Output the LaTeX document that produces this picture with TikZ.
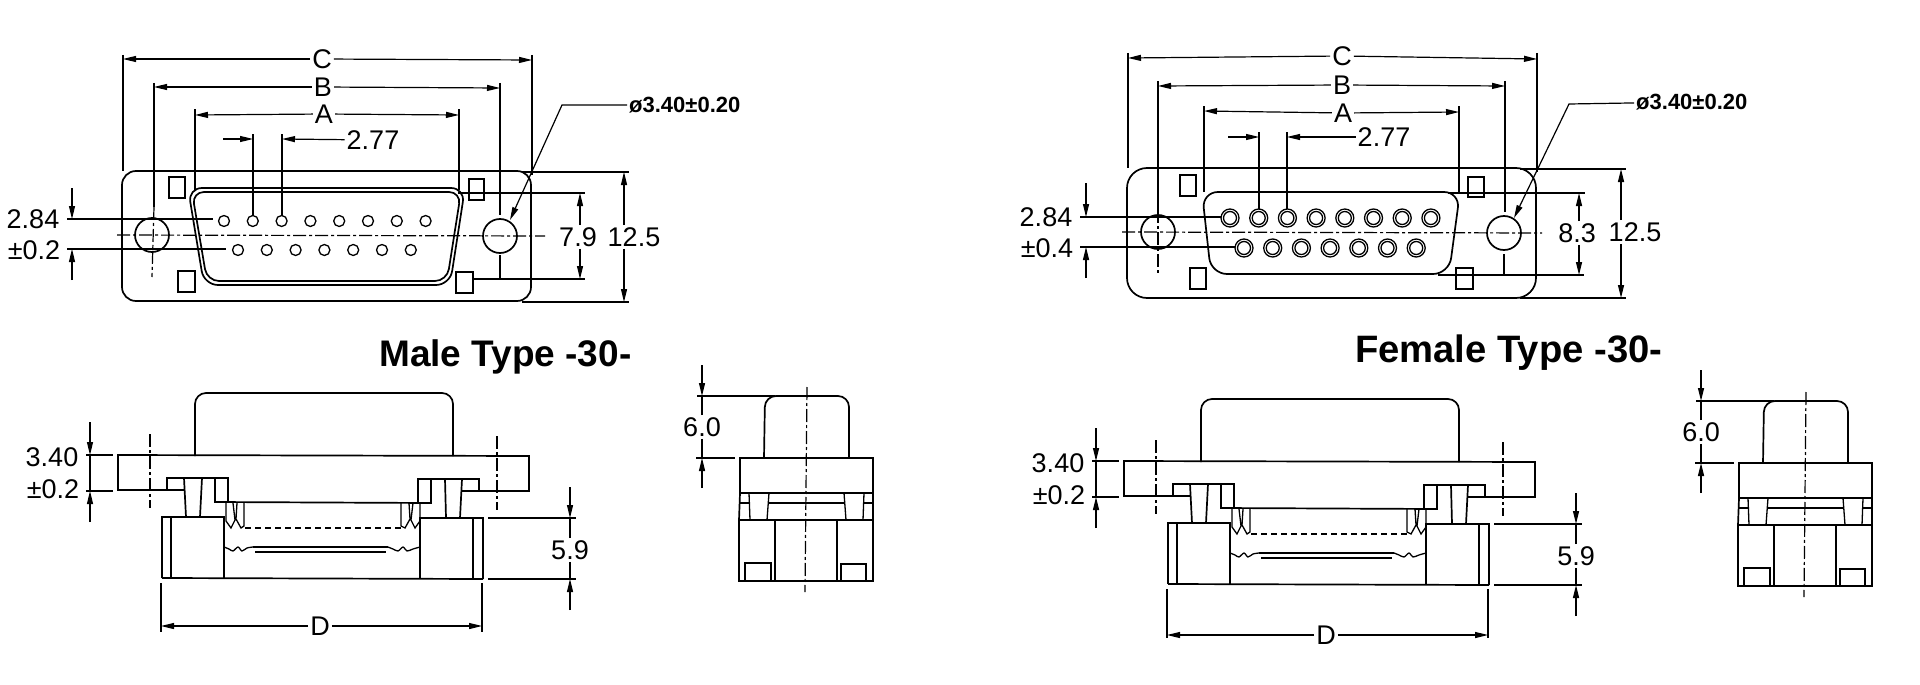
\documentclass[tikz,border=0pt]{standalone}
\usepackage{fontspec}
\setmainfont{Liberation Sans}
\usetikzlibrary{arrows.meta}
\tikzset{
  part/.style={line width=1.7pt,black},
  thinpart/.style={line width=1.3pt,black},
  leader/.style={line width=1.2pt,black},
  dimline/.style={line width=1.2pt,black,-{Stealth[length=13pt,width=6pt,inset=0pt]}},
  centerline/.style={line width=1.2pt,black,dash pattern=on 13pt off 3pt on 3pt off 3pt},
  dimlabel/.style={font=\fontsize{27}{30}\selectfont,inner sep=2pt,fill=white},
  holelabel/.style={font=\fontsize{22}{26}\selectfont\bfseries,inner sep=2pt},
  titlelabel/.style={font=\fontsize{37}{42}\selectfont\bfseries,inner sep=0pt,anchor=base west}
}
\newcommand{\sideview}[1]{
  \draw[part] (167,490) -- (118,490) -- (118,455) -- (529,456) -- (529,491) -- (479,491);
  \draw[part,rounded corners=11] (195,456) -- (195,393) -- (453,393) -- (453,456);
  \draw[part] (184,490) -- (167,490) -- (167,478) -- (228,478) -- (228,502);
  \draw[part] (461,491) -- (479,491) -- (479,479) -- (418,479) -- (418,503);
  \draw[part] (215,478) -- (215,502) -- (431,503) -- (431,479);
  \draw[part] (184,478) -- (186,517) (202,478) -- (200,517);
  \draw[part] (445,479) -- (446,518) (462,479) -- (460,518);
  \draw[part] (162,578) -- (162,517) -- (224,517) -- (224,578);
  \draw[part] (483,579) -- (483,518) -- (420,518) -- (420,578);
  \draw[part] (162,578) -- (483,579) (171,517) -- (171,578) (473,518) -- (473,579);
  \draw[thinpart] (226,503) -- (226,521) -- (231,528) -- (235,520) -- (233,503)
    (237,503) -- (236,519) -- (241,528) -- (244,526) -- (244,503);
  \draw[thinpart] (420,503) -- (420,521) -- (415,528) -- (411,520) -- (413,503)
    (409,503) -- (410,519) -- (405,528) -- (401,526) -- (401,503);
  \draw[thinpart,dash pattern=on 6pt off 4pt] (245,528) -- (402,528);
  \draw[thinpart] plot[smooth] coordinates {(224,547) (229,549) (233,551) (238,547) (242,551) (247,548) (253,547)};
  \draw[thinpart] plot[smooth] coordinates {(388,547) (393,549) (398,551) (403,547) (407,551) (413,549) (420,547)};
  \draw[thinpart] (253,547) -- (388,547) (255,552) -- (386,552);
  \draw[centerline] (150,434) -- (150,508);
  \draw[centerline] (497,436) -- (497,510);
  \node[dimlabel] (lbl340) at (52,457) {3.40};
  \node[dimlabel] (lblpm) at (53,489) {±0.2};
  \draw[leader] (86,455) -- (113,455) (86,491) -- (113,491);
  \draw[leader] (90,455) -- (90,491);
  \draw[dimline] (90,422) -- (90,455);
  \draw[dimline] (90,522) -- (90,491);
  \node[dimlabel] (lblh) at (570,550) {5.9};
  \draw[leader] (488,518) -- (576,518) (488,579) -- (576,579);
  \draw[leader] (lblh) -- (570,518) (lblh) -- (570,579);
  \draw[dimline] (570,487) -- (570,518);
  \draw[dimline] (570,610) -- (570,579);
  \draw[leader] (161,583) -- (161,632) (482,583) -- (482,632);
  \node[dimlabel] (lblD) at (320,#1) {D};
  \draw[dimline] (lblD) -- (161,#1);
  \draw[dimline] (lblD) -- (482,#1);
}
\newcommand{\rearview}{
  \draw[part,rounded corners=11] (764,458) -- (765,396) -- (849,396) -- (849,458);
  \draw[part] (740,458) rectangle (873,493);
  \draw[part] (740,493) -- (739,520) (873,493) -- (873,520);
  \draw[part] (739,520) rectangle (873,581);
  \draw[part] (775,520) -- (775,581) (837,520) -- (837,581);
  \draw[thinpart] (749,493) -- (750,520) (769,493) -- (767,520) (844,493) -- (846,520) (864,493) -- (863,520);
  \draw[thinpart] (740,503) -- (749,503) (864,503) -- (873,503);
  \draw[part] (769,503) -- (844,503);
  \draw[thinpart] (745,581) -- (745,563) -- (771,563) -- (771,581);
  \draw[thinpart] (841,581) -- (841,564) -- (866,564) -- (866,581);
  \draw[centerline] (807,387) -- (805,592);
  \node[dimlabel] (lblside) at (702,427) {6.0};
  \draw[leader] (697,396) -- (775,396) (696,458) -- (735,458);
  \draw[leader] (lblside) -- (702,396) (lblside) -- (702,458);
  \draw[dimline] (702,365) -- (702,396);
  \draw[dimline] (702,488) -- (702,458);
}
\begin{document}
\begin{tikzpicture}[x=1pt,y=-1pt]
  \useasboundingbox[fill=white] (0,0) rectangle (1920,685);
  % male front
  \draw[part,rounded corners=14] (122,171) rectangle (531,301);
  \draw[part,rounded corners=14] (188,188) -- (465,188) -- (450,285) -- (204,285) -- cycle;
  \draw[part,rounded corners=12] (192,192) -- (461,192) -- (447,281) -- (207,281) -- cycle;
  \foreach \i in {0,...,7} \draw[thinpart] ({224+28.8*\i},221) circle[radius=5.5];
  \foreach \i in {0,...,6} \draw[thinpart] ({238+28.8*\i},250) circle[radius=5.5];
  \draw[part] (152,235) circle[radius=17] (500,236) circle[radius=17];
  \draw[thinpart] (169,177) rectangle (185,198) (469,179) rectangle (484,200);
  \draw[thinpart] (178,271) rectangle (195,292) (456,272) rectangle (473,293);
  \draw[centerline] (117,235) -- (545,236);
  \node[dimlabel] (lblC) at (322,59) {C};
  \node[dimlabel] (lblB) at (323,87) {B};
  \node[dimlabel] (lblA) at (324,114) {A};
  \draw[dimline] (lblC) -- (123,59);
  \draw[dimline] (lblC) -- (532,60);
  \draw[dimline] (lblB) -- (154,87);
  \draw[dimline] (lblB) -- (500,88);
  \draw[dimline] (lblA) -- (195,115);
  \draw[dimline] (lblA) -- (459,115);
  \draw[leader] (123,55) -- (123,171) (532,55) -- (532,175);
  \draw[leader] (154,83) -- (154,207) (500,83) -- (500,215) (500,255) -- (500,278) (473,279) -- (500,279);
  \draw[centerline] (154,207) -- (152,277);
  \draw[leader] (195,109) -- (195,190) (459,109) -- (459,190);
  \node[dimlabel,fill=none] (lblpitch) at (373,140) {2.77};
  \draw[leader] (253,134) -- (253,216) (282,134) -- (282,216);
  \draw[dimline] (223,139) -- (253,139);
  \draw[dimline] (lblpitch) -- (282,139);
  \node[dimlabel] (lbl284) at (33,219) {2.84};
  \node[dimlabel] (lblpm) at (34,250) {±0.2};
  \draw[leader] (67,219) -- (213,219) (67,249) -- (226,249);
  \draw[dimline] (72,188) -- (72,219);
  \draw[dimline] (72,280) -- (72,249);
  \node[dimlabel] (lblin) at (578,237) {7.9};
  \node[dimlabel] (lblout) at (634,237) {12.5};
  \coordinate (inT) at (580,193);
  \coordinate (inB) at (580,279);
  \coordinate (outT) at (624,172);
  \coordinate (outB) at (624,302);
  \draw[leader] (458,193) -- (585,193) (473,279) -- (585,279);
  \draw[leader] (522,172) -- (629,172) (522,302) -- (629,302);
  \draw[dimline] (lblin.north -| inT) -- (inT);
  \draw[dimline] (lblin.south -| inB) -- (inB);
  \draw[dimline] (lblout.north -| outT) -- (outT);
  \draw[dimline] (lblout.south -| outB) -- (outB);
  \node[holelabel,anchor=west] (lblhole) at (627,105) {ø3.40±0.20};
  \draw[dimline] (lblhole) -- (562,105) -- (510,220);
  \node[titlelabel] (lblmale) at (379,366) {Male Type -30-};
  % male side and rear
  \begin{scope}[name prefix=m-]
    \sideview{626}
    \rearview
  \end{scope}
  % female front
  \draw[part,rounded corners=20] (1127,168) rectangle (1536,298);
  \draw[part,rounded corners=16] (1202,192) -- (1460,192) -- (1449,274) -- (1211,274) -- cycle;
  \foreach \i in {0,...,7} {
    \draw[thinpart] ({1230+28.7*\i},218) circle[radius=9];
    \draw[thinpart] ({1230+28.7*\i},218) circle[radius=6.5];
  }
  \foreach \i in {0,...,6} {
    \draw[thinpart] ({1244+28.7*\i},248) circle[radius=9];
    \draw[thinpart] ({1244+28.7*\i},248) circle[radius=6.5];
  }
  \draw[part] (1158,232) circle[radius=17] (1504,233) circle[radius=17];
  \draw[thinpart] (1180,175) rectangle (1196,196) (1468,177) rectangle (1484,197);
  \draw[thinpart] (1190,268) rectangle (1206,289) (1456,268) rectangle (1473,289);
  \draw[centerline] (1122,232) -- (1542,233);
  \node[dimlabel] (lblCf) at (1342,56) {C};
  \node[dimlabel] (lblBf) at (1342,85) {B};
  \node[dimlabel] (lblAf) at (1343,113) {A};
  \draw[dimline] (lblCf) -- (1128,58);
  \draw[dimline] (lblCf) -- (1537,59);
  \draw[dimline] (lblBf) -- (1158,86);
  \draw[dimline] (lblBf) -- (1505,86);
  \draw[dimline] (lblAf) -- (1204,111);
  \draw[dimline] (lblAf) -- (1459,112);
  \draw[leader] (1128,53) -- (1128,168) (1537,53) -- (1537,172);
  \draw[leader] (1158,81) -- (1158,210) (1505,81) -- (1505,212) (1504,254) -- (1504,275);
  \draw[centerline] (1158,210) -- (1158,275);
  \draw[leader] (1204,106) -- (1204,192) (1459,106) -- (1459,192);
  \node[dimlabel,fill=none] (lblpitchf) at (1384,137) {2.77};
  \draw[leader] (1259,132) -- (1259,209) (1287,132) -- (1287,209);
  \draw[dimline] (1228,137) -- (1259,137);
  \draw[dimline] (lblpitchf) -- (1287,137);
  \node[dimlabel] (lbl284f) at (1046,217) {2.84};
  \node[dimlabel] (lblpmf) at (1047,248) {±0.4};
  \draw[leader] (1080,217) -- (1221,217) (1080,247) -- (1235,247);
  \draw[dimline] (1086,183) -- (1086,217);
  \draw[dimline] (1086,278) -- (1086,247);
  \node[dimlabel] (lblinf) at (1577,233) {8.3};
  \node[dimlabel] (lbloutf) at (1635,232) {12.5};
  \coordinate (inTf) at (1579,193);
  \coordinate (inBf) at (1579,275);
  \coordinate (outTf) at (1621,169);
  \coordinate (outBf) at (1621,298);
  \draw[leader] (1448,193) -- (1585,193) (1438,275) -- (1584,275);
  \draw[leader] (1520,169) -- (1626,169) (1520,298) -- (1626,298);
  \draw[dimline] (lblinf.north -| inTf) -- (inTf);
  \draw[dimline] (lblinf.south -| inBf) -- (inBf);
  \draw[dimline] (lbloutf.north -| outTf) -- (outTf);
  \draw[dimline] (lbloutf.south -| outBf) -- (outBf);
  \node[holelabel,anchor=west] (lblholef) at (1634,102) {ø3.40±0.20};
  \draw[dimline] (lblholef) -- (1569,104) -- (1514,218);
  \node[titlelabel,font=\fontsize{38.2}{42}\selectfont\bfseries] (lblfemale) at (1355,362) {Female Type -30-};
  % female side and rear
  \begin{scope}[shift={(1006,6)},name prefix=f-]
    \sideview{629}
  \end{scope}
  \begin{scope}[shift={(999,5)},name prefix=g-]
    \rearview
  \end{scope}
\end{tikzpicture}
\end{document}
